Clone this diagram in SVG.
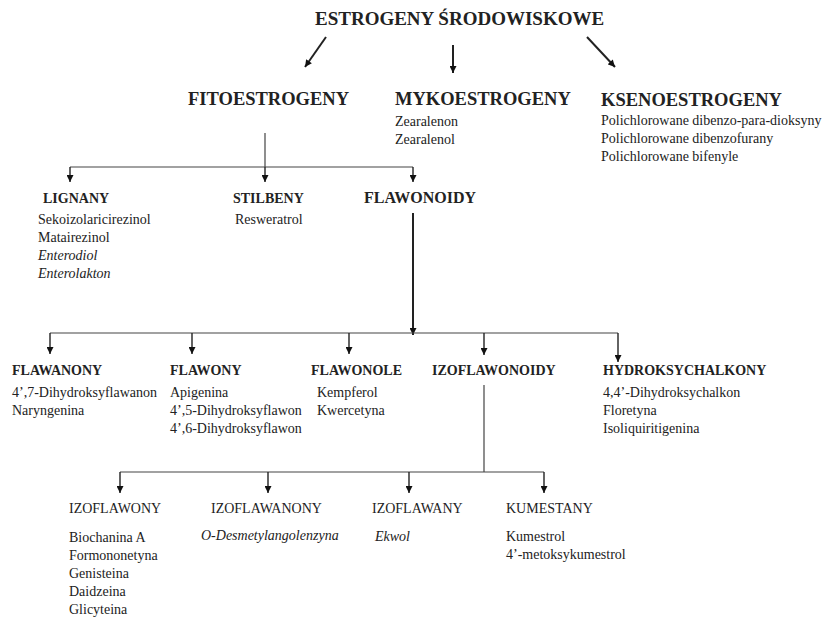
<svg xmlns="http://www.w3.org/2000/svg" width="837" height="619" viewBox="0 0 837 619">
<style>
text{font-family:"Liberation Serif","Times New Roman",serif;fill:#222}
.t{font-size:19px;font-weight:bold}
.h{font-size:18.5px;font-weight:bold}
.b{font-size:14px;font-weight:bold}
.f{font-size:16px;font-weight:bold}
.r{font-size:14px}
.i{font-size:14px;font-style:italic}
.ln{stroke:#444;stroke-width:1.2;fill:none}
.ar{stroke:#222;stroke-width:1.4;fill:none;marker-end:url(#ah)}
.th{stroke:#222;stroke-width:2;fill:none}
</style>
<defs>
<marker id="ah" viewBox="0 0 10 10" refX="10" refY="5" markerWidth="8" markerHeight="7" markerUnits="userSpaceOnUse" orient="auto">
<path d="M0,0 L10,5 L0,10 z" fill="#111"/>
</marker>
</defs>
<rect width="837" height="619" fill="#fff"/>
<g id="connectors">
<line class="th" x1="326" y1="37" x2="305" y2="67" marker-end="url(#ah)"/>
<line class="th" x1="453" y1="45" x2="453" y2="73" marker-end="url(#ah)"/>
<line class="th" x1="587" y1="37" x2="615" y2="67" marker-end="url(#ah)"/>
<line class="ln" x1="265" y1="133" x2="265" y2="167"/>
<line class="ln" x1="70" y1="167" x2="413" y2="167"/>
<line class="ar" x1="70" y1="167" x2="70" y2="182"/>
<line class="ar" x1="265" y1="167" x2="265" y2="182"/>
<line class="ar" x1="413" y1="167" x2="413" y2="182"/>
<line class="th" x1="413" y1="213" x2="413" y2="335" marker-end="url(#ah)"/>
<line class="ln" x1="50" y1="333" x2="618" y2="333"/>
<line class="ar" x1="50" y1="333" x2="50" y2="354"/>
<line class="ar" x1="192" y1="333" x2="192" y2="354"/>
<line class="ar" x1="349" y1="333" x2="349" y2="354"/>
<line class="ar" x1="484" y1="333" x2="484" y2="355"/>
<line class="ar" x1="618" y1="333" x2="618" y2="362"/>
<line class="ln" x1="484" y1="385" x2="484" y2="472"/>
<line class="ln" x1="120" y1="472" x2="544" y2="472"/>
<line class="ar" x1="120" y1="472" x2="120" y2="493"/>
<line class="ar" x1="268" y1="472" x2="268" y2="493"/>
<line class="ar" x1="409" y1="472" x2="409" y2="493"/>
<line class="ar" x1="544" y1="472" x2="544" y2="493"/>
</g>
<g id="estrogeny"><text class="t" x="315" y="25">ESTROGENY ŚRODOWISKOWE</text></g>
<g id="fitoestrogeny"><text class="h" x="188" y="105">FITOESTROGENY</text></g>
<g id="mykoestrogeny"><text class="h" x="395" y="105">MYKOESTROGENY</text>
<text class="r" x="395" y="126">Zearalenon</text>
<text class="r" x="395" y="144">Zearalenol</text></g>
<g id="ksenoestrogeny"><text class="h" x="601" y="106">KSENOESTROGENY</text>
<text class="r" x="601" y="125">Polichlorowane dibenzo-para-dioksyny</text>
<text class="r" x="601" y="143">Polichlorowane dibenzofurany</text>
<text class="r" x="601" y="161">Polichlorowane bifenyle</text></g>
<g id="lignany"><text class="b" x="43" y="203">LIGNANY</text>
<text class="r" x="38" y="224">Sekoizolaricirezinol</text>
<text class="r" x="38" y="242">Matairezinol</text>
<text class="i" x="38" y="260">Enterodiol</text>
<text class="i" x="38" y="278">Enterolakton</text></g>
<g id="stilbeny"><text class="b" x="233" y="203">STILBENY</text>
<text class="r" x="235" y="224">Resweratrol</text></g>
<g id="flawonoidy"><text class="f" x="364" y="203">FLAWONOIDY</text></g>
<g id="flawanony"><text class="b" x="12" y="375">FLAWANONY</text>
<text class="r" x="12" y="397">4’,7-Dihydroksyflawanon</text>
<text class="r" x="12" y="415">Naryngenina</text></g>
<g id="flawony"><text class="b" x="170" y="375">FLAWONY</text>
<text class="r" x="170" y="397">Apigenina</text>
<text class="r" x="170" y="415">4’,5-Dihydroksyflawon</text>
<text class="r" x="170" y="433">4’,6-Dihydroksyflawon</text></g>
<g id="flawonole"><text class="b" x="311" y="375">FLAWONOLE</text>
<text class="r" x="317" y="397">Kempferol</text>
<text class="r" x="317" y="415">Kwercetyna</text></g>
<g id="izoflawonoidy"><text class="b" x="432" y="375">IZOFLAWONOIDY</text></g>
<g id="hydroksychalkony"><text class="b" x="603" y="375">HYDROKSYCHALKONY</text>
<text class="r" x="603" y="397">4,4’-Dihydroksychalkon</text>
<text class="r" x="603" y="415">Floretyna</text>
<text class="r" x="603" y="433">Isoliquiritigenina</text></g>
<g id="izoflawony"><text class="r" x="69" y="513">IZOFLAWONY</text>
<text class="r" x="69" y="542">Biochanina A</text>
<text class="r" x="69" y="560">Formononetyna</text>
<text class="r" x="69" y="578">Genisteina</text>
<text class="r" x="69" y="596">Daidzeina</text>
<text class="r" x="69" y="614">Glicyteina</text></g>
<g id="izoflawanony"><text class="r" x="211" y="513">IZOFLAWANONY</text>
<text class="i" x="201" y="540">O-Desmetylangolenzyna</text></g>
<g id="izoflawany"><text class="r" x="372" y="513">IZOFLAWANY</text>
<text class="i" x="375" y="541">Ekwol</text></g>
<g id="kumestany"><text class="r" x="506" y="513">KUMESTANY</text>
<text class="r" x="506" y="541">Kumestrol</text>
<text class="r" x="506" y="559">4’-metoksykumestrol</text></g>
</svg>
